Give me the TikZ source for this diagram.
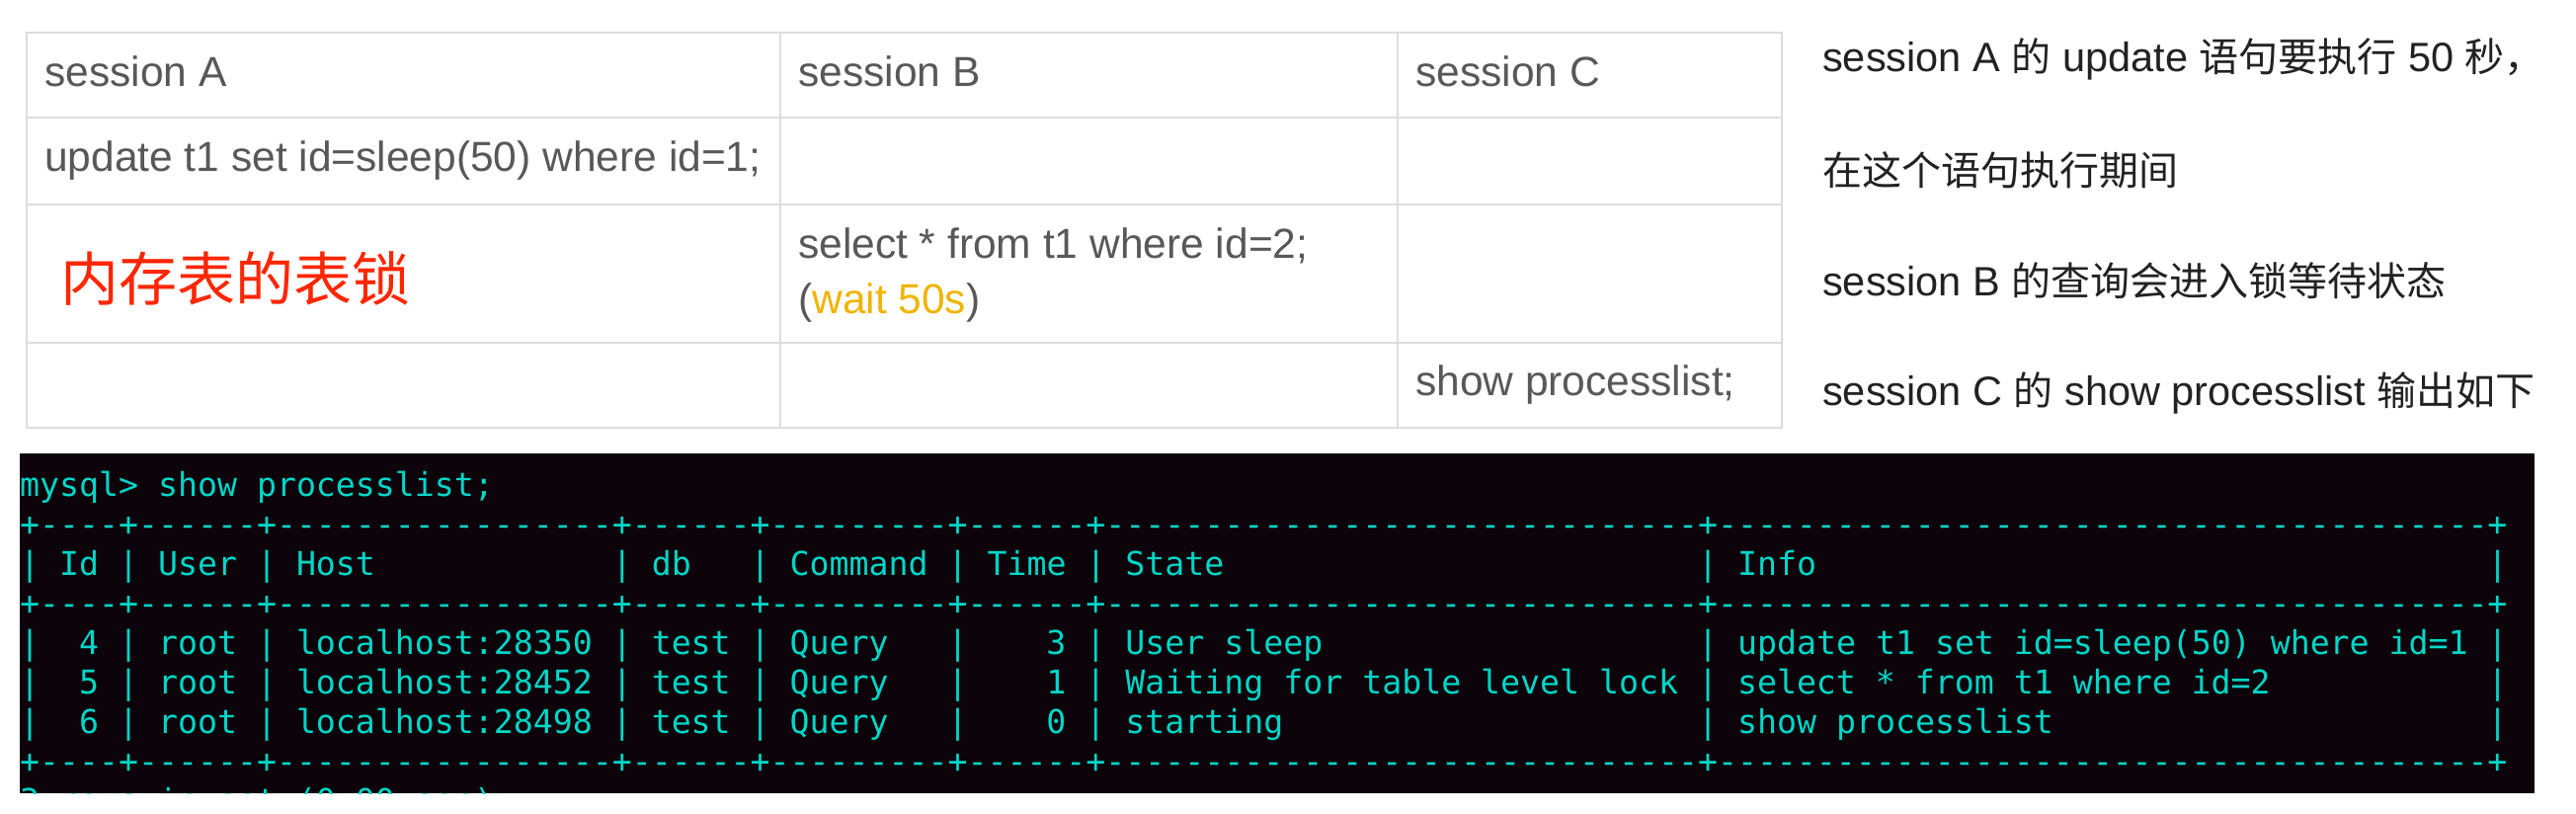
\documentclass[tikz,border=0pt]{standalone}
\usepackage{fontspec}
\setmainfont{Liberation Sans}
\setmonofont{DejaVu Sans Mono}
\newfontfamily\cjk{Noto Sans CJK SC}
\definecolor{gridc}{RGB}{221,221,221}
\definecolor{cellc}{RGB}{88,88,88}
\definecolor{waitc}{RGB}{240,180,0}
\definecolor{redc}{RGB}{255,38,0}
\definecolor{notec}{RGB}{34,34,34}
\definecolor{termbg}{RGB}{12,4,10}
\definecolor{termfg}{RGB}{0,214,200}
\newdimen\cw
\cw=19.988pt
\newcommand\gap[1]{\hspace*{#1\cw}}
\newcommand\zh[1]{{\cjk\fontsize{40pt}{48pt}\selectfont #1}}
\tikzset{
  grid/.style={draw=gridc, line width=2.5pt},
  cell/.style={anchor=base west, inner sep=0pt, text=cellc, font=\fontsize{42.5pt}{50pt}\selectfont},
  note/.style={anchor=base west, inner sep=0pt, text=notec, font=\fontsize{41.5pt}{48pt}\selectfont},
  redlabel/.style={anchor=base west, inner sep=0pt, text=redc, font=\cjk\fontsize{59pt}{66pt}\selectfont},
  term/.style={anchor=base west, inner sep=0pt, text=termfg, font=\ttfamily\fontsize{33.2pt}{40pt}\selectfont}
}
\begin{document}
\begin{tikzpicture}[x=1pt,y=-1pt]
\useasboundingbox (0,0) rectangle (2608,824);
\fill[white] (0,0) rectangle (2608,824);
% session table
\foreach \y in {119,207,347} \draw[grid] (27,\y) -- (1804,\y);
\foreach \x in {790,1415} \draw[grid] (\x,33) -- (\x,433);
\draw[grid] (27,33) rectangle (1804,433);
\node[cell] (hA) at (45,88) {session A};
\node[cell] (hB) at (808,88) {session B};
\node[cell] (hC) at (1433,88) {session C};
\node[cell] (a1) at (45,173) {update t1 set id=sleep(50) where id=1;};
\node[redlabel] (lock) at (61,304) {内存表的表锁};
\node[cell] (b1) at (808,261) {select * from t1 where id=2;};
\node[cell] (b2) at (808,317) {(\textcolor{waitc}{wait 50s})};
\node[cell] (c1) at (1433,400) {show processlist;};
% notes
\node[note] (n1) at (1845,73) {session A \zh{的} update \zh{语句要执行} 50 \zh{秒，}};
\node[note] (n2) at (1845,187) {\zh{在这个语句执行期间}};
\node[note] (n3) at (1845,299) {session B \zh{的查询会进入锁等待状态}};
\node[note] (n4) at (1845,410) {session C \zh{的} show processlist \zh{输出如下}};
% terminal
\begin{scope}
\clip (20,459) rectangle (2566,803);
\fill[termbg] (20,459) rectangle (2566,803);
\node[term] (t0) at (20,502) {mysql>~show~processlist;};
\node[term] (t1) at (20,542) {+----+------+-----------------+------+---------+------+------------------------------+---------------------------------------+};
\node[term] (t2) at (20,582) {|~Id~|~User~|~Host\gap{12}|~db\gap{3}|~Command~|~Time~|~State\gap{24}|~Info\gap{34}|};
\node[term] (t3) at (20,622) {+----+------+-----------------+------+---------+------+------------------------------+---------------------------------------+};
\node[term] (t4) at (20,662) {|\gap{2}4~|~root~|~localhost:28350~|~test~|~Query\gap{3}|\gap{4}3~|~User~sleep\gap{19}|~update~t1~set~id=sleep(50)~where~id=1~|};
\node[term] (t5) at (20,702) {|\gap{2}5~|~root~|~localhost:28452~|~test~|~Query\gap{3}|\gap{4}1~|~Waiting~for~table~level~lock~|~select~*~from~t1~where~id=2\gap{11}|};
\node[term] (t6) at (20,742) {|\gap{2}6~|~root~|~localhost:28498~|~test~|~Query\gap{3}|\gap{4}0~|~starting\gap{21}|~show~processlist\gap{22}|};
\node[term] (t7) at (20,782) {+----+------+-----------------+------+---------+------+------------------------------+---------------------------------------+};
\node[term] (t8) at (20,822) {3~rows~in~set~(0.00~sec)};
\end{scope}
\end{tikzpicture}
\end{document}
